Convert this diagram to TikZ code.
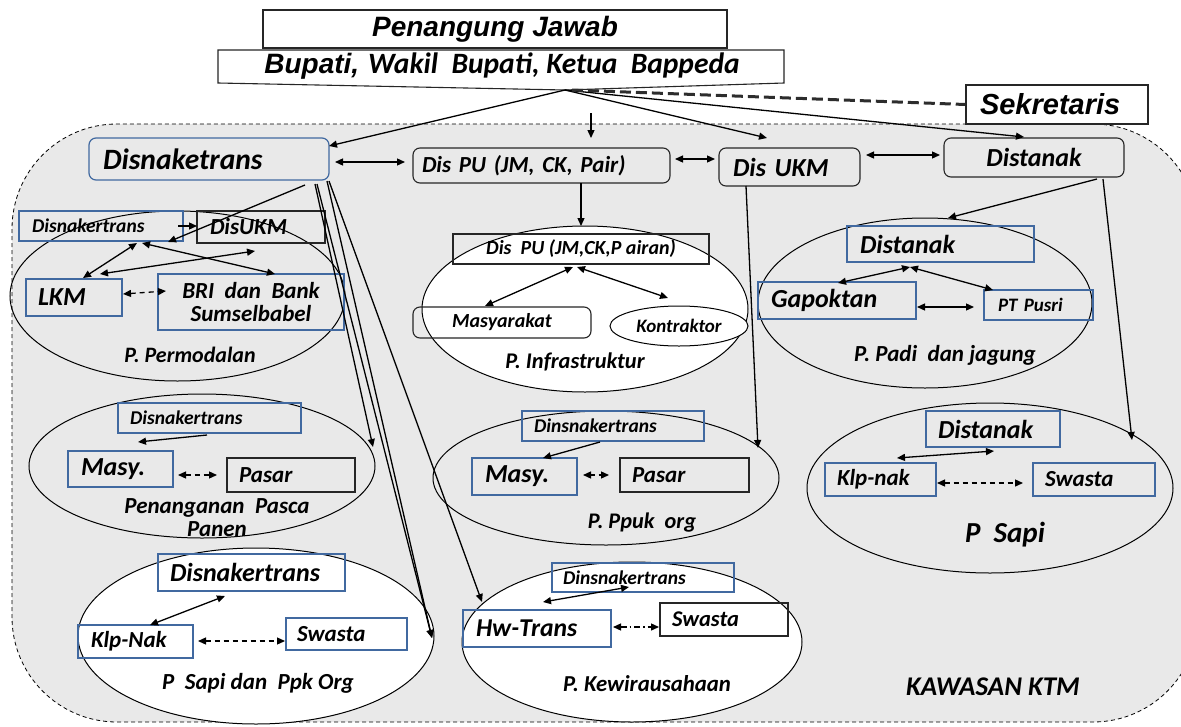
\documentclass[tikz,border=0pt]{standalone}
\usepackage{fontspec}
\setmainfont{Carlito}
\newfontfamily\arialf{Liberation Sans}
\usetikzlibrary{arrows.meta,shapes.geometric}
\definecolor{bgc}{RGB}{233,233,233}
\definecolor{bluec}{RGB}{65,105,160}
\definecolor{dashc}{RGB}{45,45,45}
\tikzset{
  fz/.style={font=\bfseries\itshape\fontsize{#1}{#1}\selectfont},
  fa/.style={font=\arialf\bfseries\itshape\fontsize{#1}{#1}\selectfont},
  bb/.style={draw=bluec, line width=1.2pt, inner ysep=0pt},
  kb/.style={draw=black!85, line width=1.1pt, inner ysep=0pt},
  rb/.style={draw=black!85, line width=1.1pt, rounded corners=7pt, inner ysep=0pt},
  lft/.style 2 args={text width=#1, inner xsep=#2, align=left},
  sz/.style 2 args={minimum width=#1, minimum height=#2},
  ell/.style={ellipse, draw=black, line width=1pt, inner sep=0pt},
  con/.style={line width=1.3pt, draw=black},
  dsh/.style={con, dash pattern=on 5pt off 4pt},
  dshdot/.style={con, dash pattern=on 6pt off 3pt on 1.5pt off 3pt},
  lab/.style={inner sep=0pt, align=center},
  >={Triangle[length=8pt,width=7pt]}
}
\begin{document}
\begin{tikzpicture}[x=1pt,y=-1pt]
\useasboundingbox (0,0) rectangle (1181,726);
\clip (0,0) rectangle (1181,726);
\fill[white] (0,0) rectangle (1181,726);
% region
\draw[fill=bgc, line width=0.8pt, dash pattern=on 4pt off 3pt, rounded corners=105pt] (12,124) rectangle (1198,722);

% ellipses
\node[ell, fill=white, sz={326pt}{166pt}] (inE) at (585,309) {};
\node[ell, fill=white, sz={356pt}{176pt}] (spE) at (256,636) {};
\node[ell, fill=white, sz={340pt}{160pt}] (kwE) at (632,642) {};
\node[ell, sz={335pt}{170pt}] (pmE) at (177.5,296) {};
\node[ell, sz={346pt}{144pt}] (paE) at (202,466) {};
\node[ell, sz={334pt}{170pt}] (pdE) at (925,303) {};
\node[ell, sz={346pt}{134pt}] (ppE) at (606,478) {};
\node[ell, sz={366pt}{170pt}] (psE) at (990,488) {};

% level 1
\node[bb, rounded corners=7pt, sz={240pt}{42pt}, lft={212pt}{14pt}, fz=29.5] (dk) at (209,159) {Disnaketrans};
\node[rb, sz={257pt}{35pt}, lft={239pt}{9pt}, fz=23] (pu) at (541.5,165.5) {Dis~PU~(JM,~CK,~Pair)};
\node[rb, sz={141pt}{38pt}, lft={113pt}{14pt}, fz=26] (uk) at (789.5,167) {Dis~UKM};
\node[rb, sz={180pt}{39pt}, fz=26] (dt) at (1034,157.5) {Distanak};

% top
\draw[line width=1.1pt, draw=black!85, fill=white] (218,50) -- (784,50) -- (784,83) -- (565,90) -- (218,83) -- cycle;
\node[kb, fill=white, sz={464pt}{38pt}, fa=28] (pj) at (495,29) {Penangung Jawab};
\node[lab] (bup) at (502,66) {{\arialf\bfseries\itshape\fontsize{28}{28}\selectfont Bupati,}\hspace{9pt}{\bfseries\itshape\fontsize{29.5}{29.5}\selectfont Wakil~~Bupati,~Ketua~~Bappeda}};
\node[kb, fill=white, sz={182pt}{39pt}, lft={154pt}{14pt}, fa=29] (sek) at (1057,104.5) {Sekretaris};

% P. Permodalan
\node[bb, sz={164pt}{30pt}, lft={138pt}{13pt}, fz=19.5] (pmD) at (101,226) {Disnakertrans};
\node[kb, sz={128pt}{32pt}, lft={102pt}{13pt}, fz=23] (pmU) at (261,227) {DisUKM};
\node[bb, sz={96pt}{37pt}, lft={72pt}{12pt}, fz=26] (pmL) at (74,297.5) {LKM};
\node[bb, sz={186pt}{56pt}, align=center, fz=23] (pmB) at (251,302) {BRI~~dan~~Bank\\Sumselbabel};
\node[lab, fz=22] (pmT) at (190,355) {P. Permodalan};

% Penanganan Pasca Panen
\node[bb, sz={183pt}{30pt}, lft={159pt}{12pt}, fz=19.5] (paD) at (209.5,418) {Disnakertrans};
\node[bb, line width=2pt, sz={105pt}{36pt}, lft={79pt}{13pt}, fz=26] (paM) at (120.5,469) {Masy.};
\node[kb, sz={128pt}{34pt}, lft={104pt}{12pt}, fz=23] (paP) at (291,475) {Pasar};
\node[lab, fz=23] (paT) at (217,518) {Penanganan~~Pasca\\Panen};

% P Sapi dan Ppk Org
\node[bb, sz={187pt}{37pt}, lft={163pt}{12pt}, fz=26] (spD) at (251.5,572.5) {Disnakertrans};
\node[bb, sz={115pt}{33pt}, lft={89pt}{13pt}, fz=23] (spK) at (135.5,641.5) {Klp-Nak};
\node[bb, sz={121pt}{32pt}, lft={99pt}{11pt}, fz=23] (spS) at (346.5,634) {Swasta};
\node[lab, fz=23] (spT) at (258,683) {P~~Sapi dan~~Ppk Org};

% P. Infrastruktur
\node[kb, sz={256pt}{30pt}, fz=20] (inD) at (581,249) {Dis~~PU (JM,CK,P airan)};
\node[rb, sz={178pt}{31pt}, fz=20] (inM) at (502,322.5) {Masyarakat};
\node[ell, fill=white, sz={138pt}{40pt}, fz=19] (inK) at (679,326) {Kontraktor};
\node[lab, fz=22.4] (inT) at (575,362) {P. Infrastruktur};

% P. Padi dan jagung
\node[bb, sz={187pt}{36pt}, lft={161pt}{13pt}, fz=26] (pdD) at (940.5,244) {Distanak};
\node[bb, sz={158pt}{37pt}, lft={132pt}{13pt}, fz=26] (pdG) at (837,300.5) {Gapoktan};
\node[bb, sz={109pt}{30pt}, lft={81pt}{14pt}, fz=19] (pdP) at (1038.5,305) {PT~Pusri};
\node[lab, fz=23] (pdT) at (945,355) {P. Padi~~dan jagung};

% P. Ppuk org
\node[bb, sz={182pt}{30pt}, lft={158pt}{12pt}, fz=19.5] (ppD) at (613,426) {Dinsnakertrans};
\node[bb, line width=2pt, sz={105pt}{37pt}, lft={79pt}{13pt}, fz=26] (ppM) at (524.5,476.5) {Masy.};
\node[kb, sz={129pt}{34pt}, lft={105pt}{12pt}, fz=23] (ppP) at (684.5,475) {Pasar};
\node[lab, fz=22.3] (ppT) at (642,523) {P. Ppuk~~org};

% P. Kewirausahaan
\node[bb, sz={182pt}{29pt}, lft={160pt}{11pt}, fz=19.5] (kwD) at (643,577.5) {Dinsnakertrans};
\node[bb, sz={148pt}{37pt}, lft={122pt}{13pt}, fz=25.7] (kwH) at (537,628.5) {Hw-Trans};
\node[kb, sz={128pt}{33pt}, lft={104pt}{12pt}, fz=22.5] (kwS) at (724,619.5) {Swasta};
\node[lab, fz=22.8] (kwT) at (647,684) {P. Kewirausahaan};

% P Sapi
\node[bb, sz={134pt}{36pt}, lft={110pt}{12pt}, fz=26] (psD) at (993,429) {Distanak};
\node[bb, sz={111pt}{33pt}, lft={87pt}{12pt}, fz=23] (psK) at (880.5,479.5) {Klp-nak};
\node[bb, sz={122pt}{33pt}, lft={98pt}{12pt}, fz=23] (psS) at (1094,479.5) {Swasta};
\node[lab, fz=29] (psT) at (1005,535) {P~~Sapi};

\node[lab, fz=27] (ktm) at (993,687) {KAWASAN KTM};

% ---------- connectors ----------
\coordinate (apex) at (565,90);
\coordinate (apexd) at (572,90);
\coordinate (dkIn) at (329,146);
\coordinate (ukIn) at (767,138);
\coordinate (dtIn) at (1024,137);
\coordinate (s1) at (591,113);
\coordinate (s2) at (591,138);
\draw[con,->] (apex) -- (dkIn);
\draw[con,->] (apex) -- (ukIn);
\draw[con,->] (apex) -- (dtIn);
\draw[line width=3pt, draw=dashc, dash pattern=on 11pt off 5pt] (apexd) -- (sek.west);
\draw[con,->] (s1) -- (s2);

\coordinate (h1a) at (335,162); \coordinate (h1b) at (405,162);
\coordinate (h2a) at (675,159); \coordinate (h2b) at (715,159);
\coordinate (h3a) at (866,155); \coordinate (h3b) at (940,155);
\draw[con,<->] (h1a) -- (h1b);
\draw[con,<->] (h2a) -- (h2b);
\draw[con,<->] (h3a) -- (h3b);

\coordinate (puOut) at (581,183); \coordinate (inIn) at (581,226);
\draw[con,->] (puOut) -- (inIn);
\coordinate (ukOut) at (746,186); \coordinate (ppIn) at (758,448);
\draw[con,->] (ukOut) -- (ppIn);
\coordinate (dtOut1) at (1097,179); \coordinate (pdIn) at (948,218);
\draw[con,->] (dtOut1) -- (pdIn);
\coordinate (dtOut2) at (1103,179); \coordinate (psIn) at (1132,440);
\draw[con,->] (dtOut2) -- (psIn);

\coordinate (dkO1) at (305,185); \coordinate (pmIn) at (168,242);
\coordinate (dkO2) at (315,184); \coordinate (paIn) at (373,447);
\coordinate (dkO3) at (317,184); \coordinate (dkO4) at (327,181); \coordinate (spIn) at (432,638);
\coordinate (dkO5) at (329,181); \coordinate (kwIn) at (482,602);
\draw[con,->] (dkO1) -- (pmIn);
\draw[con,->] (dkO2) -- (paIn);
\draw[con,->] (dkO3) -- (spIn);
\draw[con,->] (dkO4) -- (spIn);
\draw[con,->] (dkO5) -- (kwIn);

% Permodalan
\coordinate (pm1a) at (178,226); \coordinate (pm1b) at (197,226);
\draw[con,->] (pm1a) -- (pm1b);
\coordinate (pm2a) at (137,243); \coordinate (pm2b) at (83,278);
\draw[con,<->] (pm2a) -- (pm2b);
\coordinate (pm3a) at (142,243); \coordinate (pm3b) at (275,274);
\draw[con,<->] (pm3a) -- (pm3b);
\coordinate (pm4a) at (255,251); \coordinate (pm4b) at (100,274);
\draw[con,<->] (pm4a) -- (pm4b);
\coordinate (pm5a) at (123,294); \coordinate (pm5b) at (166,291);
\draw[dsh,<->] (pm5a) -- (pm5b);

% Pasca
\coordinate (pa1a) at (207,435); \coordinate (pa1b) at (138,442);
\draw[con,->] (pa1a) -- (pa1b);
\coordinate (pa2a) at (178,475); \coordinate (pa2b) at (217,475);
\draw[dsh,<->] (pa2a) -- (pa2b);

% Sapi Ppk
\coordinate (sp1a) at (225,596); \coordinate (sp1b) at (150,625);
\draw[con,<->] (sp1a) -- (sp1b);
\coordinate (sp2a) at (198,641); \coordinate (sp2b) at (285,641);
\draw[dsh,<->] (sp2a) -- (sp2b);

% Infra
\coordinate (in1a) at (573,267); \coordinate (in1b) at (485,306);
\draw[con,<->] (in1a) -- (in1b);
\coordinate (in2a) at (577,267); \coordinate (in2b) at (668,298);
\draw[con,<->] (in2a) -- (in2b);

% Padi
\coordinate (pd1a) at (910,267); \coordinate (pd1b) at (838,283);
\draw[con,<->] (pd1a) -- (pd1b);
\coordinate (pd2b) at (993,290);
\draw[con,<->] (pd1a) -- (pd2b);
\coordinate (pd3a) at (917,307); \coordinate (pd3b) at (974,307);
\draw[con,<->] (pd3a) -- (pd3b);

% Ppuk
\coordinate (pp1a) at (600,442); \coordinate (pp1b) at (543,458);
\draw[con,->] (pp1a) -- (pp1b);
\coordinate (pp2a) at (583,475); \coordinate (pp2b) at (609,475);
\draw[con,<->, dash pattern=on 4pt off 4pt] (pp2a) -- (pp2b);

% Kewira
\coordinate (kw1a) at (629,587); \coordinate (kw1b) at (543,602);
\draw[con,<->] (kw1a) -- (kw1b);
\coordinate (kw2a) at (613,627); \coordinate (kw2b) at (659,627);
\draw[dshdot,<->] (kw2a) -- (kw2b);

% P Sapi
\coordinate (ps1a) at (897,458); \coordinate (ps1b) at (994,451);
\draw[con,<->] (ps1a) -- (ps1b);
\coordinate (ps2a) at (937,483); \coordinate (ps2b) at (1023,483);
\draw[dsh,<->] (ps2a) -- (ps2b);
\end{tikzpicture}
\end{document}
